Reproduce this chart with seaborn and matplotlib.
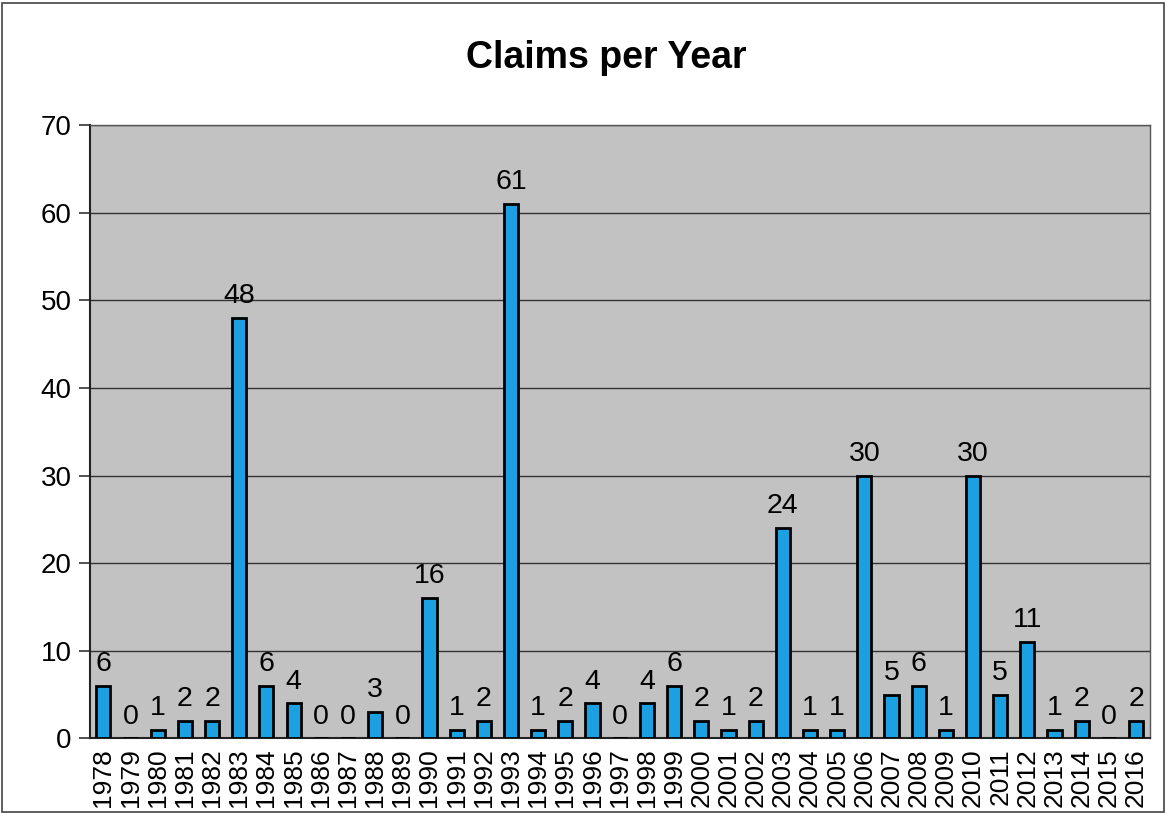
import numpy as np
import pandas as pd
import matplotlib.pyplot as plt
import seaborn as sns

years = [str(y) for y in range(1978, 2017)]
claims = [6, 0, 1, 2, 2, 48, 6, 4, 0, 0, 3, 0, 16, 1, 2, 61, 1, 2, 4, 0,
          4, 6, 2, 1, 2, 24, 1, 1, 30, 5, 6, 1, 30, 5, 11, 1, 2, 0, 2]

df = pd.DataFrame({"Year": years, "Claims": claims})

sns.set_style("white")
plt.rcParams["font.family"] = ["Liberation Sans", "DejaVu Sans"]
plt.rcParams["text.color"] = "black"
plt.rcParams["xtick.color"] = "black"
plt.rcParams["ytick.color"] = "black"

fig = plt.figure(figsize=(11.66, 8.14), dpi=100)
ax = fig.add_axes([0.077, 0.093, 0.909, 0.753])

sns.barplot(data=df, x="Year", y="Claims", color="#1ba1e2", width=0.52,
            edgecolor="black", linewidth=2, saturation=1, ax=ax, zorder=3)

ax.set_facecolor("#c2c2c2")
ax.set_ylim(0, 70)
ax.set_xlim(-0.5, len(years) - 0.5)
ax.set_yticks(range(0, 71, 10))
ax.yaxis.grid(True, color="#333333", linewidth=1)
ax.set_axisbelow(True)

# labels on top of bars
for i, v in enumerate(claims):
    ax.text(i, v + 1.0, str(v), ha="center", va="bottom", fontsize=20.5)

# category ticks between bars
ax.set_xticks(np.arange(-0.5, len(years), 1), minor=True)
ax.tick_params(axis="x", which="major", length=0, labelsize=19, rotation=90, pad=7)
ax.tick_params(axis="x", which="minor", length=8, width=1.2, direction="out", color="#333333")
ax.tick_params(axis="y", length=8, width=1.2, direction="out", labelsize=20, color="#333333", pad=5)
ax.tick_params(axis="both", bottom=True, left=True)

for s in ["left", "bottom"]:
    ax.spines[s].set_color("#222222")
    ax.spines[s].set_linewidth(1.5)
for s in ["top", "right"]:
    ax.spines[s].set_color("#555555")
    ax.spines[s].set_linewidth(1)

ax.set_xlabel("")
ax.set_ylabel("")
fig.text(0.52, 0.929, "Claims per Year", ha="center", va="center",
         fontsize=27, fontweight="bold")

# frame around the whole chart
fig.patches.append(plt.Rectangle((0.002, 0.002), 0.996, 0.994, transform=fig.transFigure,
                                 fill=False, edgecolor="#444444", linewidth=1.2))

plt.savefig("out.png", dpi=100)
